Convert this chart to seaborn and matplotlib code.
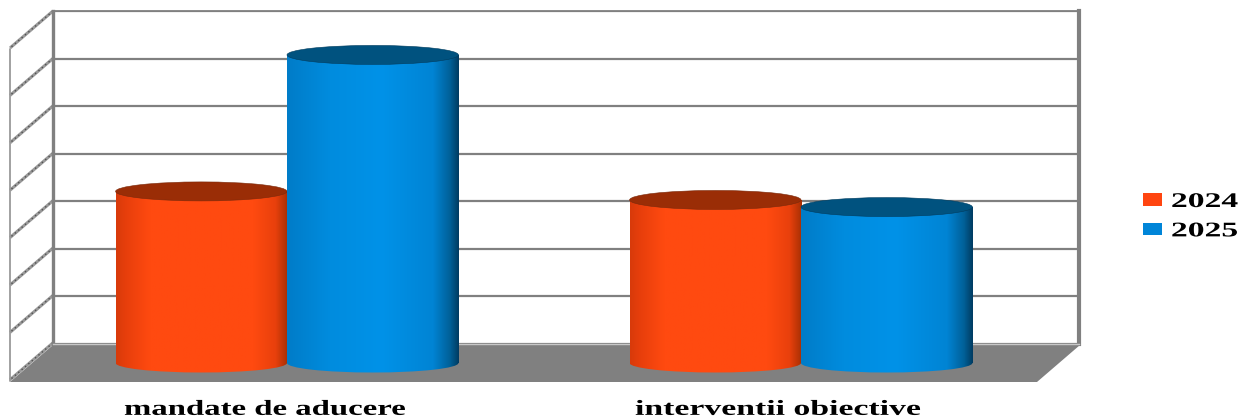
import numpy as np
import pandas as pd
import matplotlib
matplotlib.use("Agg")
import matplotlib.pyplot as plt
import matplotlib.patheffects as pe
from matplotlib.colors import LinearSegmentedColormap
from matplotlib.patches import Ellipse, Polygon
from matplotlib.transforms import Affine2D, ScaledTranslation
import seaborn as sns

categories = ["mandate de aducere", "interventii obiective"]
years = ["2024", "2025"]
values_2024 = [3.62, 3.44]
values_2025 = [6.50, 3.29]

W, H = 1241, 418
GRAY = "#808080"
sns.set_theme(style="white")
plt.rcParams["font.family"] = ["Liberation Serif", "DejaVu Serif"]
plt.rcParams["font.weight"] = "bold"

df = pd.DataFrame({
    "categorie": categories * 2,
    "an": [years[0]] * 2 + [years[1]] * 2,
    "valoare": values_2024 + values_2025,
})

fig = plt.figure(figsize=(W / 100, H / 100), dpi=100, facecolor="white")


def px_axes(x0, y0, x1, y1, **kw):
    return fig.add_axes([x0 / W, 1 - y1 / H, (x1 - x0) / W, (y1 - y0) / H], **kw)


# --- floor and side wall, in pixel coordinates
bg = px_axes(0, 0, W, H, zorder=0)
bg.set_xlim(0, W)
bg.set_ylim(H, 0)
bg.axis("off")
bg.add_patch(Polygon([(53, 345), (1080, 345), (1037, 382), (10, 382)], fc=GRAY, ec="none"))
bg.plot([10, 10], [49, 381], color="#9a9a9a", lw=1.3)
for i in range(8):
    y = 11 + i * 47.4
    bg.plot([53, 10], [y, y + 37], color="#999999", lw=2.2, solid_capstyle="butt")
    bg.plot([53, 10], [y, y + 37], color="#505050", lw=1.0, ls=(0, (1, 2.2)))

# --- back wall with its grid
wall = px_axes(53, 11, 1078.5, 343.5, zorder=1)
wall.set_facecolor("white")
wall.set_xlim(0, 1)
wall.set_ylim(0, 7)
wall.set_yticks(range(8))
wall.set_xticks([])
wall.set_yticklabels([])
wall.tick_params(length=0)
wall.grid(axis="y", color=GRAY, lw=1.6)
wall.set_axisbelow(True)
for side, lw in [("top", 1.3), ("left", 2.4), ("right", 3.0), ("bottom", 1.0)]:
    wall.spines[side].set_visible(True)
    wall.spines[side].set_color(GRAY if side != "bottom" else "#c8c8c8")
    wall.spines[side].set_linewidth(lw)

# --- cylinders
ax = px_axes(0, 0, W, 395, zorder=2)
ax.patch.set_alpha(0)
palette = {years[0]: "#FF4510", years[1]: "#0085D8"}
sns.barplot(data=df, x="categorie", y="valoare", hue="an", hue_order=years,
            order=categories, palette=palette, width=0.667, gap=0, saturation=1,
            errorbar=None, ax=ax, linewidth=0)
step, base_px, unit = 514.0, 363.0, 47.4
xlim = (-287 / step, (W - 287) / step)
ylim = (-(395 - base_px) / unit, base_px / unit)

cmaps = {
    0: LinearSegmentedColormap.from_list("o", [(0, "#D83A0A"), (.06, "#E83F0C"), (.2, "#FF4A10"),
                                               (.8, "#FF4A10"), (.93, "#E8400C"), (1, "#A83004")]),
    1: LinearSegmentedColormap.from_list("b", [(0, "#007CC8"), (.25, "#008CDE"), (.55, "#0092E8"),
                                               (.85, "#0084D4"), (.95, "#006098"), (1, "#003C62")]),
}
top_colors = {0: "#9A2D06", 1: "#00527F"}
edge_colors = {0: "#7a2a0c", 1: "#003c5e"}
grad = np.linspace(0, 1, 256).reshape(1, -1)
ell_h = 19 / unit
for idx, bar in enumerate(list(ax.patches)[:4]):
    s = idx // 2
    x0, w, h = bar.get_x(), bar.get_width(), bar.get_height()
    bar.set_visible(False)
    cx = x0 + w / 2
    z = 3 + s + idx * 0.1
    clip_rect = plt.Rectangle((x0, 0), w, h, transform=ax.transData)
    im = ax.imshow(grad, cmap=cmaps[s], extent=(x0, x0 + w, -ell_h, h), aspect="auto", zorder=z)
    bottom = Ellipse((cx, 0), w, ell_h, transform=ax.transData)
    im.set_clip_path(clip_rect)
    im2 = ax.imshow(grad, cmap=cmaps[s], extent=(x0, x0 + w, -ell_h, h), aspect="auto", zorder=z)
    im2.set_clip_path(bottom)
    ax.add_patch(Ellipse((cx, h), w, ell_h, fc=top_colors[s], ec=edge_colors[s], lw=0.4, zorder=z + 0.05))

ax.set_xlim(*xlim)
ax.set_ylim(*ylim)
ax.set_xlabel("")
ax.set_ylabel("")
ax.set_yticks([])
for s in ax.spines.values():
    s.set_visible(False)
ax.tick_params(axis="x", length=0, pad=3.5, labelsize=15.5, labelcolor="black")
ax.set_xticks(range(len(categories)))
ax.set_xticklabels(categories, fontweight="bold", family=["Liberation Serif"])
for lab, dx in zip(ax.get_xticklabels(), [-22, -23.5]):
    lab.set_transform(lab.get_transform() + ScaledTranslation(dx / 100, 0, fig.dpi_scale_trans))

# --- legend
handles, labels = ax.get_legend_handles_labels()
leg = ax.legend(handles, labels, loc="upper left", bbox_to_anchor=(1143 / W, 1 - 192 / H),
                bbox_transform=fig.transFigure, frameon=False, fontsize=15, title=None,
                borderpad=0, borderaxespad=0, handlelength=0.91, handleheight=0.58,
                handletextpad=0.43, labelspacing=0.45)
for t in leg.get_texts():
    t.set_color("black")
    t.set_fontweight("bold")


# The reference's text is stretched sideways; keep it as text and widen the glyphs when drawn.
class Stretch(pe.AbstractPathEffect):
    def __init__(self, sx, anchor):
        super().__init__()
        self.sx, self.anchor = sx, anchor

    def draw_path(self, renderer, gc, tpath, affine, rgbFace=None):
        t = affine + Affine2D().translate(-self.anchor, 0).scale(self.sx, 1).translate(self.anchor, 0)
        renderer.draw_path(gc, tpath, t, rgbFace)


fig.canvas.draw()
rend = fig.canvas.get_renderer()
for lab, target in zip(ax.get_xticklabels(), [282, 285]):
    e = lab.get_window_extent(rend)
    lab.set_path_effects([Stretch(target / e.width, (e.x0 + e.x1) / 2)])
for t in leg.get_texts():
    e = t.get_window_extent(rend)
    t.set_path_effects([Stretch(67 / e.width, e.x0)])

fig.savefig("out.png", dpi=100, facecolor="white")
